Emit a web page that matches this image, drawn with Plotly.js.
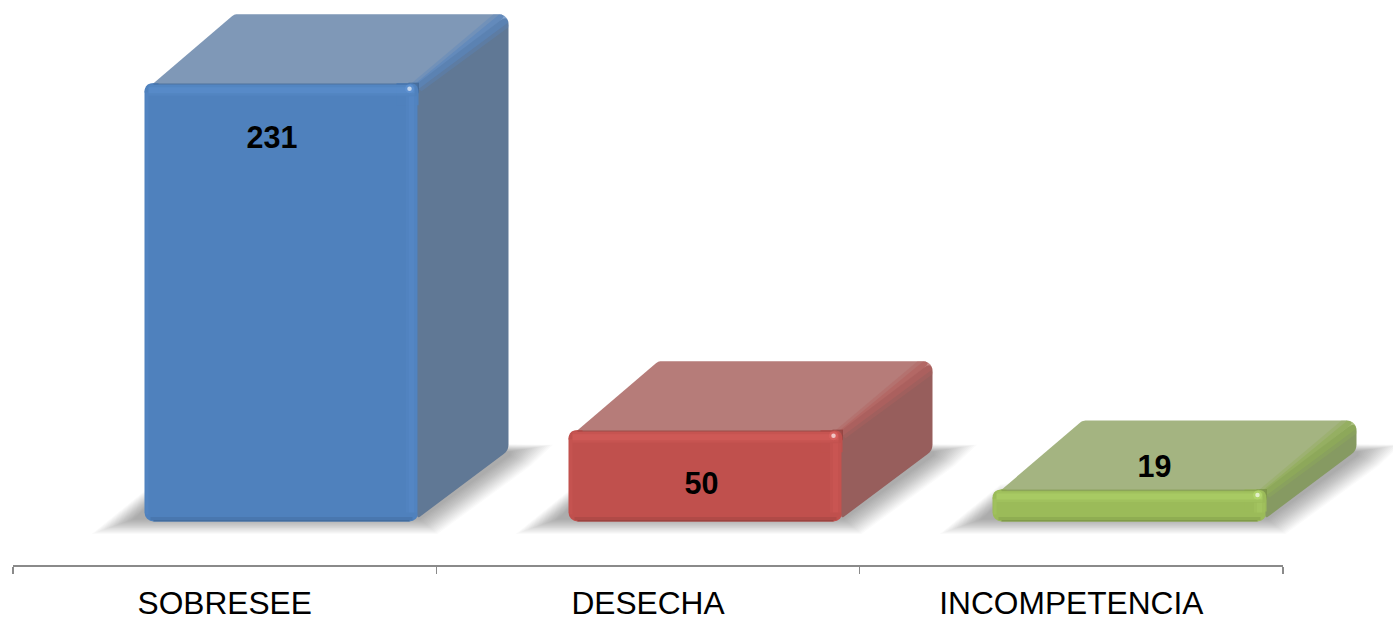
<!DOCTYPE html>
<html><head><meta charset="utf-8">
<script src="https://cdn.plot.ly/plotly-3.0.1.min.js"></script>
<style>html,body{margin:0;padding:0;background:#fff;overflow:hidden}#c{width:1393px;height:618px}</style>
</head><body><div id="c"></div>
<script>
const categories = ["SOBRESEE", "DESECHA", "INCOMPETENCIA"];
const values = [231, 50, 19];
const frontColors = ["#4f81bd", "#c0504d", "#9bbb59"];
const topColors = ["#7f98b7", "#b67c79", "#a4b481"];
const sideColors = ["#607895", "#975e5c", "#869a62"];
const lightColors = ["#5f93d3", "#dc625f", "#b4d86e"];
const darkColors = ["#3f6797", "#93403d", "#7a9446"];
const ridgeColors = ["#5a86bd", "#b3625f", "#91ae58"];

// Scale of the chart, px per data unit
const W = 1393, H = 618;
const UX = 424, UY = 1.917, X0 = 281.5, Y0 = 526;
const BAR_W = 274 / UX, DX = 90, DY = 69, BASE = 4.5 / UY;
const labelDx = [-9.5, -4, 25], labelDy = [57.5, 56.5, -20.5];

const px = (i, d) => i + d / UX;            // category index + px offset
const py = (v, d) => v - d / UY;            // value + px offset (down positive)

function rounded(pts, radii) {
  const out = [];
  const n = pts.length;
  for (let k = 0; k < n; k++) {
    const p = pts[k], a = pts[(k + n - 1) % n], b = pts[(k + 1) % n], r = radii[k];
    if (!r) { out.push(p); continue; }
    const la = Math.hypot(a[0]-p[0], a[1]-p[1]), lb = Math.hypot(b[0]-p[0], b[1]-p[1]);
    const s = [p[0]+(a[0]-p[0])*r/la, p[1]+(a[1]-p[1])*r/la];
    const e = [p[0]+(b[0]-p[0])*r/lb, p[1]+(b[1]-p[1])*r/lb];
    for (let t = 0; t <= 1.001; t += 0.2) {
      const u = 1 - t;
      out.push([u*u*s[0]+2*u*t*p[0]+t*t*e[0], u*u*s[1]+2*u*t*p[1]+t*t*e[1]]);
    }
  }
  out.push(out[0]);
  return out;
}
const common = {hoverinfo: "skip", showlegend: false, xaxis: "x", yaxis: "y"};
const hw = 137;
const traces = [];

// front faces
traces.push(Object.assign({}, common, {
  type: "bar", x: [0, 1, 2], y: values.map(v => v - BASE), base: values.map(() => BASE),
  width: BAR_W, marker: {color: frontColors, line: {width: 0}}
}));

function poly(i, v, pts, color, opacity) {
  traces.push(Object.assign({}, common, {
    type: "scatter", mode: "none", fill: "toself", fillcolor: color, opacity: opacity === undefined ? 1 : opacity,
    x: pts.map(p => px(i, p[0])), y: pts.map(p => py(v, p[1]))
  }));
}
function line(i, v, pts, color, width, opacity) {
  traces.push(Object.assign({}, common, {
    type: "scatter", mode: "lines", line: {color, width, shape: "linear"}, opacity: opacity === undefined ? 1 : opacity,
    x: pts.map(p => px(i, p[0])), y: pts.map(p => py(v, p[1]))
  }));
}

values.forEach((v, i) => {
  const h = (v - BASE) * UY;   // front height in px
  // top face
  poly(i, v, rounded([[-hw+8,1],[hw,1],[hw+DX,-DY],[-hw+DX,-DY]],[1,0,11,3]), topColors[i]);
  // darker lip that joins the top face to the rounded front corner on the left
  poly(i, v, rounded([[-hw,9],[-hw,0],[-hw+14,0],[-hw+14,9]],[0,9,0,0]), frontColors[i]);
  // side face
  poly(i, v, rounded([[hw-1,0],[hw+DX,-DY],[hw+DX,h-DY-2],[hw-1,h-3]],[0,11,6,3]), sideColors[i]);
  // ridge between top and side, rounded into the back corner
  poly(i, v, rounded([[hw-7,0],[hw+DX-15,-DY],[hw+DX,-DY],[hw+DX,-DY+13],[hw+3,8]],[0,0,11,0,0]), ridgeColors[i], 0.35);
  poly(i, v, rounded([[hw-4,1],[hw+DX-9,-DY],[hw+DX,-DY],[hw+DX,-DY+8],[hw+1,5]],[0,0,11,0,0]), ridgeColors[i], 0.6);
  // corner of the front face: the rounded bar sits on the ridge
  poly(i, v, [[hw-10,-0.5],[hw+0.5,-0.5],[hw+0.5,10],[hw-10,10],[hw-10,-0.5]], darkColors[i], 0.8);
  poly(i, v, rounded([[hw-22,0],[hw,0],[hw,22],[hw-22,22]],[0,9,0,0]), frontColors[i]);
  // bevels on the front face
  line(i, v, [[-hw+9,0.8],[hw-9,0.8]], darkColors[i], 1.6, 0.5);
  line(i, v, [[-hw+4,7],[hw-4,7]], lightColors[i], 11, 0.22);
  line(i, v, [[-hw+4,7],[hw-4,7]], lightColors[i], 6, 0.4);
  line(i, v, [[hw-7,13],[hw-7,h-9]], lightColors[i], 11, 0.16);
  line(i, v, [[hw-7,13],[hw-7,h-9]], lightColors[i], 5, 0.22);
  line(i, v, [[-hw+2.5,9],[-hw+2.5,h-7]], lightColors[i], 3, 0.2);
  line(i, v, [[-hw+9,h-0.8],[hw-9,h-0.8]], darkColors[i], 1.6, 0.8);
  line(i, v, [[-hw+6,h-3],[hw-6,h-3]], darkColors[i], 3, 0.35);
  // specular
  traces.push(Object.assign({}, common, {
    type: "scatter", mode: "markers", x: [px(i, hw-9), px(i, hw-9)], y: [py(v, 5.5), py(v, 5.5)],
    marker: {size: [9, 4.5], color: [lightColors[i], "rgba(255,255,255,0.92)"], line: {width: 0}}
  }));
});

// value labels
traces.push(Object.assign({}, common, {
  type: "scatter", mode: "text", x: values.map((v, i) => px(i, labelDx[i])),
  y: values.map((v, i) => py(v, labelDy[i])), text: values.map(String),
  textposition: "middle center", textfont: {family: "Liberation Sans, Arial, sans-serif", size: 30.5, color: "#000", weight: 700},
  cliponaxis: false
}));

// category axis carrier
traces.push({type: "scatter", mode: "markers", x: categories, y: values, xaxis: "x2", yaxis: "y",
  marker: {opacity: 0, size: 1}, hoverinfo: "skip", showlegend: false});

// soft ground shadows, stacked translucent layers under the faces
const shapes = [];
const LEVELS = 18;
values.forEach((v, i) => {
  const L = -hw, R = hw;
  for (let k = 0; k < LEVELS; k++) {
    const e = (LEVELS - 1 - k) * 1.0;
    const pts = [
      [L-12-2.4*e, -2+e*0.85], [R+2+e, -2+e*0.85], [R+92+1.2*e, -66+e*0.6], [R+92+2.5*e, -70-e*0.4],
      [R, -70-e*0.5], [L+8, -20-e]
    ];
    const path = pts.map((p, j) => (j ? "L" : "M") + px(i, p[0]) + "," + py(BASE, p[1])).join(" ") + " Z";
    shapes.push({type: "path", xref: "x", yref: "y", layer: "below", path,
      fillcolor: "rgba(0,0,0,0.02)", line: {width: 0}});
  }
});

const layout = {
  width: W, height: H, margin: {l: 0, r: 0, t: 0, b: 0},
  paper_bgcolor: "#fff", plot_bgcolor: "rgba(0,0,0,0)", showlegend: false, barmode: "overlay",
  barcornerradius: 9, shapes,
  xaxis: {visible: false, type: "linear", range: [-X0 / UX, (W - X0) / UX], fixedrange: true},
  yaxis: {visible: false, type: "linear", range: [-(H - Y0) / UY, Y0 / UY], fixedrange: true},
  xaxis2: {
    type: "category", categoryorder: "array", categoryarray: categories, range: [-0.5, 2.5],
    domain: [13 / W, 1283 / W], anchor: "free", position: (H - 566) / H, side: "bottom",
    showgrid: false, zeroline: false, showline: true, linecolor: "#8a8a8a", linewidth: 2,
    ticks: "outside", tickson: "boundaries", ticklen: 7, tickwidth: 1.5, tickcolor: "#8a8a8a",
    ticklabelstandoff: 9,
    tickfont: {family: "Liberation Sans, Arial, sans-serif", size: 31.7, color: "#000"},
    fixedrange: true
  }
};
Plotly.newPlot("c", traces, layout, {displayModeBar: false, staticPlot: true});
</script></body></html>
